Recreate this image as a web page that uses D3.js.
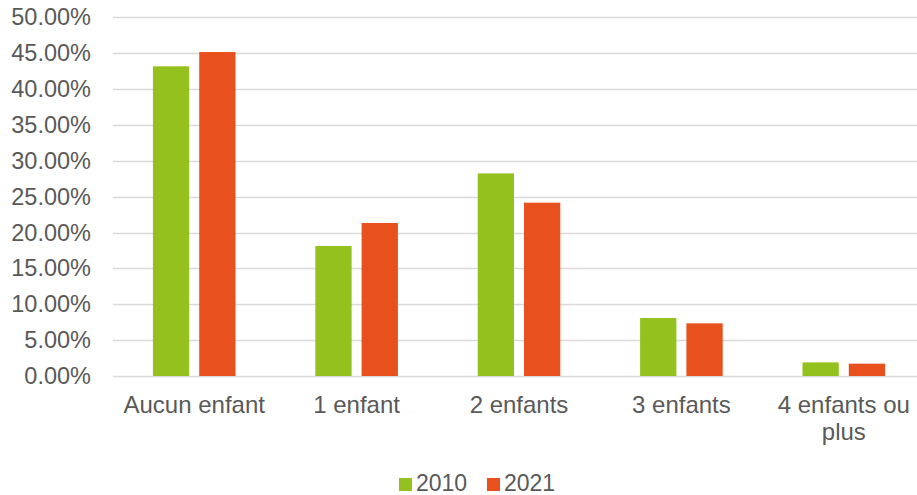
<!DOCTYPE html>
<html>
<head>
<meta charset="utf-8">
<script src="https://cdn.jsdelivr.net/npm/d3@7"></script>
<style>
    body { margin: 0; background: #fff; overflow: hidden; }
    text { font-family: "Liberation Sans", Arial, sans-serif; fill: #595959; }
</style>
</head>
<body>
<script>
// Chart data
var categories = ["Aucun enfant", "1 enfant", "2 enfants", "3 enfants", "4 enfants ou plus"];
var series = ["2010", "2021"];
var values2010 = [0.4317, 0.1812, 0.2824, 0.0808, 0.0190];
var values2021 = [0.4516, 0.2133, 0.2416, 0.0734, 0.0172];
var yTicks = [0, 0.05, 0.10, 0.15, 0.20, 0.25, 0.30, 0.35, 0.40, 0.45, 0.50];
var colors = ["#95c11f", "#e8511e"];

function drawChart() {
    var width = 917,
        height = 495;

    var svg = d3.select("body")
        .append("svg")
        .attr("width", width)
        .attr("height", height);

    // Plot area (runs a bit past the right edge, like the original)
    var left = 113, right = 925, top = 17.3, bottom = 376;

    var x = d3.scaleBand()
        .domain(categories)
        .range([left, right]);

    var y = d3.scaleLinear()
        .domain([0, 0.5])
        .range([bottom, top]);

    var fmt = d3.format(".2%");

    // Gridlines
    svg.selectAll(".grid")
        .data(yTicks)
        .enter()
        .append("line")
        .attr("class", "grid")
        .attr("x1", left)
        .attr("x2", right)
        .attr("y1", function(d) { return Math.round(y(d)) + 0.5; })
        .attr("y2", function(d) { return Math.round(y(d)) + 0.5; })
        .attr("stroke", "#d9d9d9")
        .attr("stroke-width", 1.5);

    // Y tick labels
    svg.selectAll(".ylab")
        .data(yTicks)
        .enter()
        .append("text")
        .attr("class", "ylab")
        .attr("x", 91)
        .attr("y", function(d) { return y(d) + 8; })
        .attr("text-anchor", "end")
        .style("font-size", "23.5px")
        .text(function(d) { return fmt(d); });

    // Two bars per category, centred on the band
    var barW = 36.3, gap = 10;
    var rows = [];
    categories.forEach(function(c, i) {
        rows.push({ cat: c, s: 0, v: values2010[i] });
        rows.push({ cat: c, s: 1, v: values2021[i] });
    });

    svg.selectAll(".bar")
        .data(rows)
        .enter()
        .append("rect")
        .attr("class", "bar")
        .attr("x", function(d) {
            var c = x(d.cat) + x.bandwidth() / 2;
            return d.s === 0 ? c - gap / 2 - barW : c + gap / 2;
        })
        .attr("y", function(d) { return y(d.v); })
        .attr("width", barW)
        .attr("height", function(d) { return bottom - y(d.v); })
        .attr("fill", function(d) { return colors[d.s]; });

    // X category labels (last one wraps)
    var xlabels = svg.selectAll(".xlab")
        .data(categories)
        .enter()
        .append("text")
        .attr("class", "xlab")
        .attr("text-anchor", "middle")
        .style("font-size", "24px")
        .attr("transform", function(d) {
            return "translate(" + (x(d) + x.bandwidth() / 2) + ",413)";
        });

    xlabels.each(function(d) {
        var lines = d === "4 enfants ou plus" ? ["4 enfants ou", "plus"] : [d];
        d3.select(this).selectAll("tspan")
            .data(lines)
            .enter()
            .append("tspan")
            .attr("x", 0)
            .attr("dy", function(l, i) { return i === 0 ? 0 : 27; })
            .text(function(l) { return l; });
    });

    // Legend
    var legendX = [399, 487];
    var legend = svg.selectAll(".legend")
        .data(series)
        .enter()
        .append("g")
        .attr("class", "legend")
        .attr("transform", function(d, i) { return "translate(" + legendX[i] + ",478)"; });

    legend.append("rect")
        .attr("width", 13)
        .attr("height", 13)
        .attr("fill", function(d, i) { return colors[i]; });

    legend.append("text")
        .attr("x", 17)
        .attr("y", 13)
        .style("font-size", "23px")
        .text(function(d) { return d; });
}

drawChart();
</script>
</body>
</html>
